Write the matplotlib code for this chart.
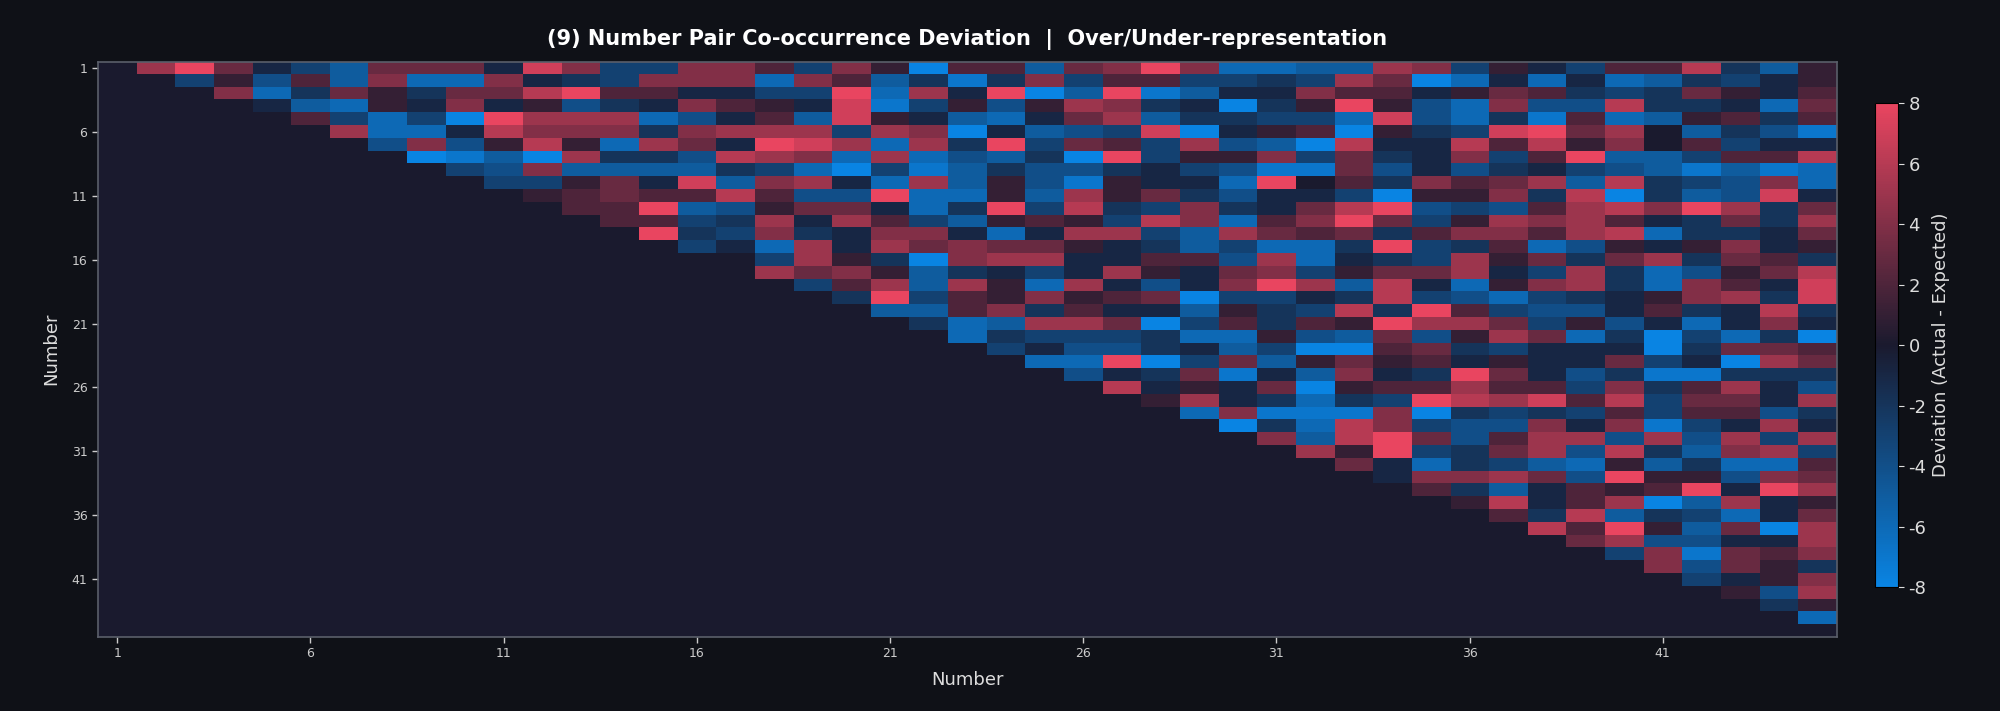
import matplotlib
matplotlib.use('Agg')
import matplotlib.pyplot as plt
import numpy as np
from matplotlib.colors import LinearSegmentedColormap

plt.rcParams['axes.unicode_minus'] = False

# numbers 1..45, upper triangle only (row i holds pairs with i+1..45)
numbers = list(range(1, 46))
tick_numbers = [1, 6, 11, 16, 21, 26, 31, 36, 41]

upper_rows = [
    [5, 8, 3, -1, -3, -5, 3, 3, 3, -1, 7, 4, -3, -3, 4, 4, 2, -3, 4, 1, -8, 2, 2, -5, 3, 4, 8, 4, -6, -6, -5, -5, 5, 4, -3, 1, -1, -3, 2, 2, 6, -2, -5, 1],
    [-3, 1, -4, 2, -5, 4, -6, -6, 4, -1, -2, -3, 4, 4, 4, -6, 4, 2, -5, -2, -7, -2, 4, -3, 2, 2, -3, -3, -2, -3, 5, 3, -8, -6, -1, -6, -1, -6, -5, -2, -3, -1, 1],
    [4, -6, -2, 3, 1, -2, 3, 3, 6, 8, 2, 2, -1, -1, -3, -3, 8, -6, 5, -1, 8, -8, -5, 8, -7, -5, -1, -1, 4, 2, 2, -1, 1, 3, 2, -2, -3, -2, 3, 1, -1, 2],
    [-1, -5, -6, 1, -1, 4, -1, 1, -4, -2, -1, 4, 2, 1, -1, 7, -7, -3, 1, -4, 1, 5, 4, -2, -1, -8, -2, 1, 8, 1, -4, -6, 4, -4, -4, 6, -2, -2, -1, -6, 3],
    [2, -3, -6, -3, -8, 8, 5, 5, 5, -6, -4, -1, 2, -5, 7, 1, -1, -5, -6, -1, 3, 5, -5, -2, -2, -3, -3, -6, 7, -4, -6, -2, -7, 2, -6, -5, 1, 2, -2, 2],
    [5, -6, -6, -1, 6, 4, 4, 4, -2, 4, 5, 5, 5, -3, 5, 4, -8, -1, -5, -4, -3, 7, -8, -1, 1, 2, -8, 1, -2, -3, 7, 8, 3, 5, 0, -5, -2, -4, -7],
    [-4, 4, -4, 1, 6, 1, -6, 5, 3, -1, 8, 7, 5, -6, 5, -2, 8, -3, 3, 2, -3, 5, -4, -5, -8, 6, -1, -1, 6, 2, 6, 1, 4, 0, 2, -3, -1, -1],
    [-8, -7, -5, -8, 5, -2, -2, -4, 6, 5, 4, -6, 5, -6, -4, -5, -2, -8, 8, -3, 1, 1, 4, -3, 3, -2, -1, 4, -3, 2, 8, -5, -5, -3, 2, 2, 6],
    [-3, -4, 4, -5, -5, -5, -5, -2, -3, -6, -8, -3, -7, -5, -2, -4, -4, -2, -1, -3, -4, -7, -7, 3, -4, -1, -4, -2, -1, -3, -4, -5, -7, -5, -7, -6],
    [-3, -3, 1, 3, -1, 7, -5, 4, 5, -1, -6, 5, -5, 1, -4, -7, 1, -1, -1, -6, 8, 0, 2, -2, 4, 2, 3, 5, -5, 6, -2, -3, -4, 4, -6],
    [1, 2, 3, 2, 2, 6, 2, -4, -4, 8, -6, -6, 1, -5, 5, 1, 3, -2, -4, -1, -1, -3, -8, 1, 1, 4, -2, 6, -8, -2, -5, -4, 7, -1],
    [2, 2, 8, -5, -4, 1, 3, 3, -1, -6, -2, 8, -3, 6, -2, -3, 4, -2, -1, 3, 6, 8, -4, -3, -4, 2, 5, 6, 4, 8, 5, -2, 3],
    [2, 2, -3, -2, 5, -1, 5, 2, -3, -5, 1, 2, 1, -3, 6, 4, -6, 2, 4, 8, 3, -3, 1, 5, 4, 5, 2, -1, -2, 3, -2, 5],
    [8, -2, -3, 4, -2, -1, 4, 4, -1, -6, -1, 5, 5, -3, -5, 5, 3, 2, 3, -2, 2, 4, 4, 2, 5, 6, -6, -2, -2, -1, 3],
    [-3, -1, -6, 5, -1, 5, 3, 4, 3, 3, 1, -1, -2, -5, -3, -6, -6, -2, 8, -3, -2, 2, -6, -4, 1, -1, 1, 4, -1, 1],
    [0, -3, 5, 1, -2, -8, 4, 5, 5, -1, -1, 2, 2, -4, 5, -6, -1, -2, -3, 5, 1, 3, -2, 3, 5, -2, 3, 2, -2],
    [5, 3, 4, 1, -5, -2, -1, -3, -1, 5, 1, -1, 3, 4, -3, 1, 3, 3, 5, -1, -3, 5, -2, -6, -4, 1, 3, 6],
    [-3, 2, 5, -5, 5, 1, -6, 5, -1, -4, -1, 4, 8, 5, -5, 6, -1, -6, 1, 4, 5, -2, -6, 4, 2, -1, 7],
    [-2, 8, -3, 2, 1, 4, 1, 2, 3, -8, -3, -3, -1, -2, 6, -3, -4, -6, -3, -2, -1, 1, 4, 5, -2, 7],
    [-5, -5, 2, 4, -2, 2, -1, -1, -5, 1, -2, -3, 6, -2, 8, 2, -3, -4, -4, -1, 2, -2, -1, 6, -2],
    [-2, -6, -5, 5, 5, 3, -8, -3, 2, -2, 2, 1, 8, 5, 5, 3, -3, 1, -4, -1, -6, -1, 4, -1],
    [-6, -2, -3, -3, -3, -2, -6, -6, 1, -4, -5, 3, -4, 1, 5, 3, -6, -2, -8, -3, -6, -2, -8],
    [-3, -1, -4, -4, -2, -1, -5, -3, -8, -8, 2, 3, -2, -3, -1, -1, -1, -8, -2, 3, 3, 2],
    [-6, -6, 8, -8, -3, 3, -5, 1, 3, 1, 2, -1, 1, -1, -1, 3, -3, -1, -8, 5, 3],
    [-4, -1, -2, 3, -7, -1, -5, 4, -1, -2, 8, 3, -1, -4, -2, -7, -7, -2, -2, -2],
    [6, -1, 1, -1, 3, -8, 1, 2, 2, 5, 2, 2, -3, 4, -2, 2, 5, -1, -4],
    [1, 5, -1, -2, -6, -2, -3, 8, 6, 5, 7, 2, 6, -3, 3, 3, -1, 5],
    [-6, 4, -7, -7, -7, 4, -8, -2, -3, -2, -3, 2, -3, 2, 2, -4, -2],
    [-8, -2, -6, 6, 4, -3, -4, -4, 4, -1, 4, -7, -3, -1, 5, -1],
    [4, -5, 6, 8, 3, -4, 2, 5, 5, -4, 5, -4, 5, -3, 5],
    [5, 1, 8, -3, -2, 3, 5, -4, 6, -2, -5, 4, 5, -3],
    [3, -1, -6, -2, -3, -5, -6, 1, -5, -2, -6, -6, 2],
    [-1, 4, 4, 5, 3, -4, 8, 1, 1, -4, 4, 3],
    [2, -2, -5, -1, 2, 1, 2, 8, -1, 8, 5],
    [1, 6, -1, 2, 5, -8, -5, 5, -1, 1],
    [2, -2, 6, -5, -2, -3, -6, -1, 3],
    [6, 2, 8, 1, -5, 3, -8, 5],
    [3, 5, -4, -4, -1, -1, 5],
    [-3, 4, -7, 3, 2, 4],
    [4, -4, 3, 1, -2],
    [-3, -1, 1, 4],
    [1, -4, 5],
    [-2, 1],
    [-6],
]

n = len(numbers)
matrix = np.zeros((n, n))
for i, row in enumerate(upper_rows):
    matrix[i, i + 1:i + 1 + len(row)] = row

bg = '#0f1117'
cmap = LinearSegmentedColormap.from_list('dev', ['#0984e3', '#1a1a2e', '#e94560'])

fig = plt.figure(figsize=(20, 7.11), dpi=100)
fig.patch.set_facecolor(bg)
ax = fig.add_axes([0.0489, 0.1046, 0.8694, 0.8089])
ax.set_facecolor('#1a1a2e')

im = ax.imshow(matrix, cmap=cmap, vmin=-8, vmax=8, aspect='auto',
               interpolation='nearest')

tick_pos = [numbers.index(t) for t in tick_numbers]
ax.set_xticks(tick_pos)
ax.set_xticklabels([str(t) for t in tick_numbers])
ax.set_yticks(tick_pos)
ax.set_yticklabels([str(t) for t in tick_numbers])
ax.tick_params(colors='#cccccc', labelsize=9, length=4, width=1)
for sp in ax.spines.values():
    sp.set_color('#5a5f6a')
    sp.set_linewidth(1.2)

ax.set_xlabel('Number', color='#dddddd', fontsize=13, labelpad=8)
ax.set_ylabel('Number', color='#dddddd', fontsize=13, labelpad=8)
ax.set_title('(9) Number Pair Co-occurrence Deviation  |  Over/Under-representation',
             color='white', fontsize=15, fontweight='bold', pad=12)

cax = fig.add_axes([0.9375, 0.1744, 0.0115, 0.6806])
cb = fig.colorbar(im, cax=cax, ticks=np.arange(-8, 9, 2))
cb.outline.set_edgecolor('black')
cb.ax.tick_params(colors='#dddddd', labelsize=13, length=4)
cb.set_label('Deviation (Actual - Expected)', color='#dddddd', fontsize=13)

fig.savefig('out.png', dpi=100, facecolor=bg)
